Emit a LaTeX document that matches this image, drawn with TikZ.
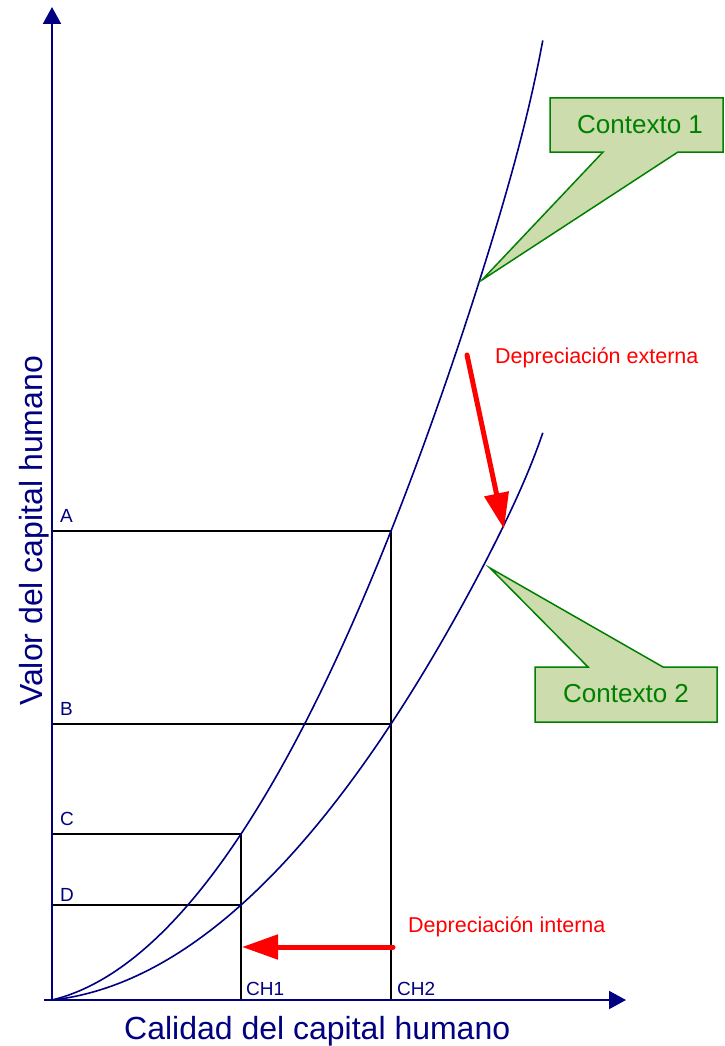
\documentclass[tikz,border=0pt]{standalone}
\usepackage{fontspec}
\setmainfont{Liberation Sans}
\usetikzlibrary{arrows.meta}
\definecolor{axisblue}{RGB}{0,0,128}
\definecolor{callgreen}{RGB}{0,128,0}
\definecolor{callfill}{RGB}{204,220,172}
\begin{document}
\begin{tikzpicture}[x=1pt,y=-1pt,
  axis/.style={draw=axisblue, line width=2pt, -{Triangle[length=17pt,width=18pt]}},
  curve/.style={draw=axisblue, line width=1.6pt},
  guide/.style={draw=black, line width=1.6pt},
  lab/.style={text=axisblue, inner sep=0pt, anchor=base west, font=\fontsize{19}{22}\selectfont},
  title/.style={text=axisblue, inner sep=0pt, anchor=base west, font=\fontsize{32}{36}\selectfont},
  redarrow/.style={draw=red, line width=5pt, line cap=round, -{Triangle[length=36pt,width=24pt]}},
  redlab/.style={text=red, inner sep=0pt, anchor=base west, font=\fontsize{21.5}{25}\selectfont},
  calloutbox/.style={draw=callgreen, fill=callfill, line width=1.5pt, line join=miter},
  calltext/.style={text=callgreen, inner sep=0pt, anchor=base west, font=\fontsize{26}{30}\selectfont}
]
\useasboundingbox (0,0) rectangle (724,1046);

% key points
\coordinate (O) at (52,1000);
\coordinate (xs) at (44,1000);
\coordinate (xe) at (626,1000);
\coordinate (ytop) at (52,7);
\coordinate (Ay) at (52,531);
\coordinate (Apt) at (391,531);
\coordinate (By) at (52,724);
\coordinate (Bpt) at (391,724);
\coordinate (CH2) at (391,1000);
\coordinate (Cy) at (52,834);
\coordinate (Cpt) at (241,834);
\coordinate (Dy) at (52,905);
\coordinate (Dpt) at (241,905);
\coordinate (CH1) at (241,1000);

% guide lines
\draw[guide] (Ay) -- (Apt) -- (CH2);
\draw[guide] (By) -- (Bpt);
\draw[guide] (Cy) -- (Cpt) -- (CH1);
\draw[guide] (Dy) -- (Dpt);

% curves (t = horizontal distance / 100)
\draw[curve] plot[domain=0:4.91, samples=140, variable=\t]
  ({52+100*\t},{1000-(24.18*\t+33.68*\t*\t+30*(\t/4.91)^30)});
\draw[curve] plot[domain=0:4.91, samples=140, variable=\t]
  ({52+100*\t},{1000-(11.01*\t+20.77*\t*\t+13*(\t/4.91)^30)});

% axes
\draw[axis] (O) -- (ytop);
\draw[axis] (xs) -- (xe);

% labels
\node[lab] (lA) at (60,522) {A};
\node[lab] (lB) at (60,715) {B};
\node[lab] (lC) at (60,825) {C};
\node[lab] (lD) at (60,901) {D};
\node[lab] (lCH1) at (246,995) {CH1};
\node[lab] (lCH2) at (397,995) {CH2};
\node[title] (xt) at (124,1039) {Calidad del capital humano};
\node[title, rotate=90] (yt) at (42,706) {Valor del capital humano};

% red arrows
\coordinate (e1) at (467,355);
\coordinate (e2) at (504,529);
\draw[redarrow] (e1) -- (e2);
\coordinate (i1) at (393,947);
\coordinate (i2) at (242,947);
\draw[redarrow] (i1) -- (i2);
\node[redlab] (le) at (495,363) {Depreciación externa};
\node[redlab] (li) at (408,932) {Depreciación interna};

% callouts
\draw[calloutbox] (550,98) -- (723,98) -- (723,152) -- (678,152) -- (482,280) -- (603,152) -- (550,152) -- cycle;
\node[calltext] (c1) at (577,134) {Contexto 1};
\draw[calloutbox] (535,667) -- (588,667) -- (490,568) -- (663,667) -- (717,667) -- (717,722) -- (535,722) -- cycle;
\node[calltext] (c2) at (563,702) {Contexto 2};
\end{tikzpicture}
\end{document}
